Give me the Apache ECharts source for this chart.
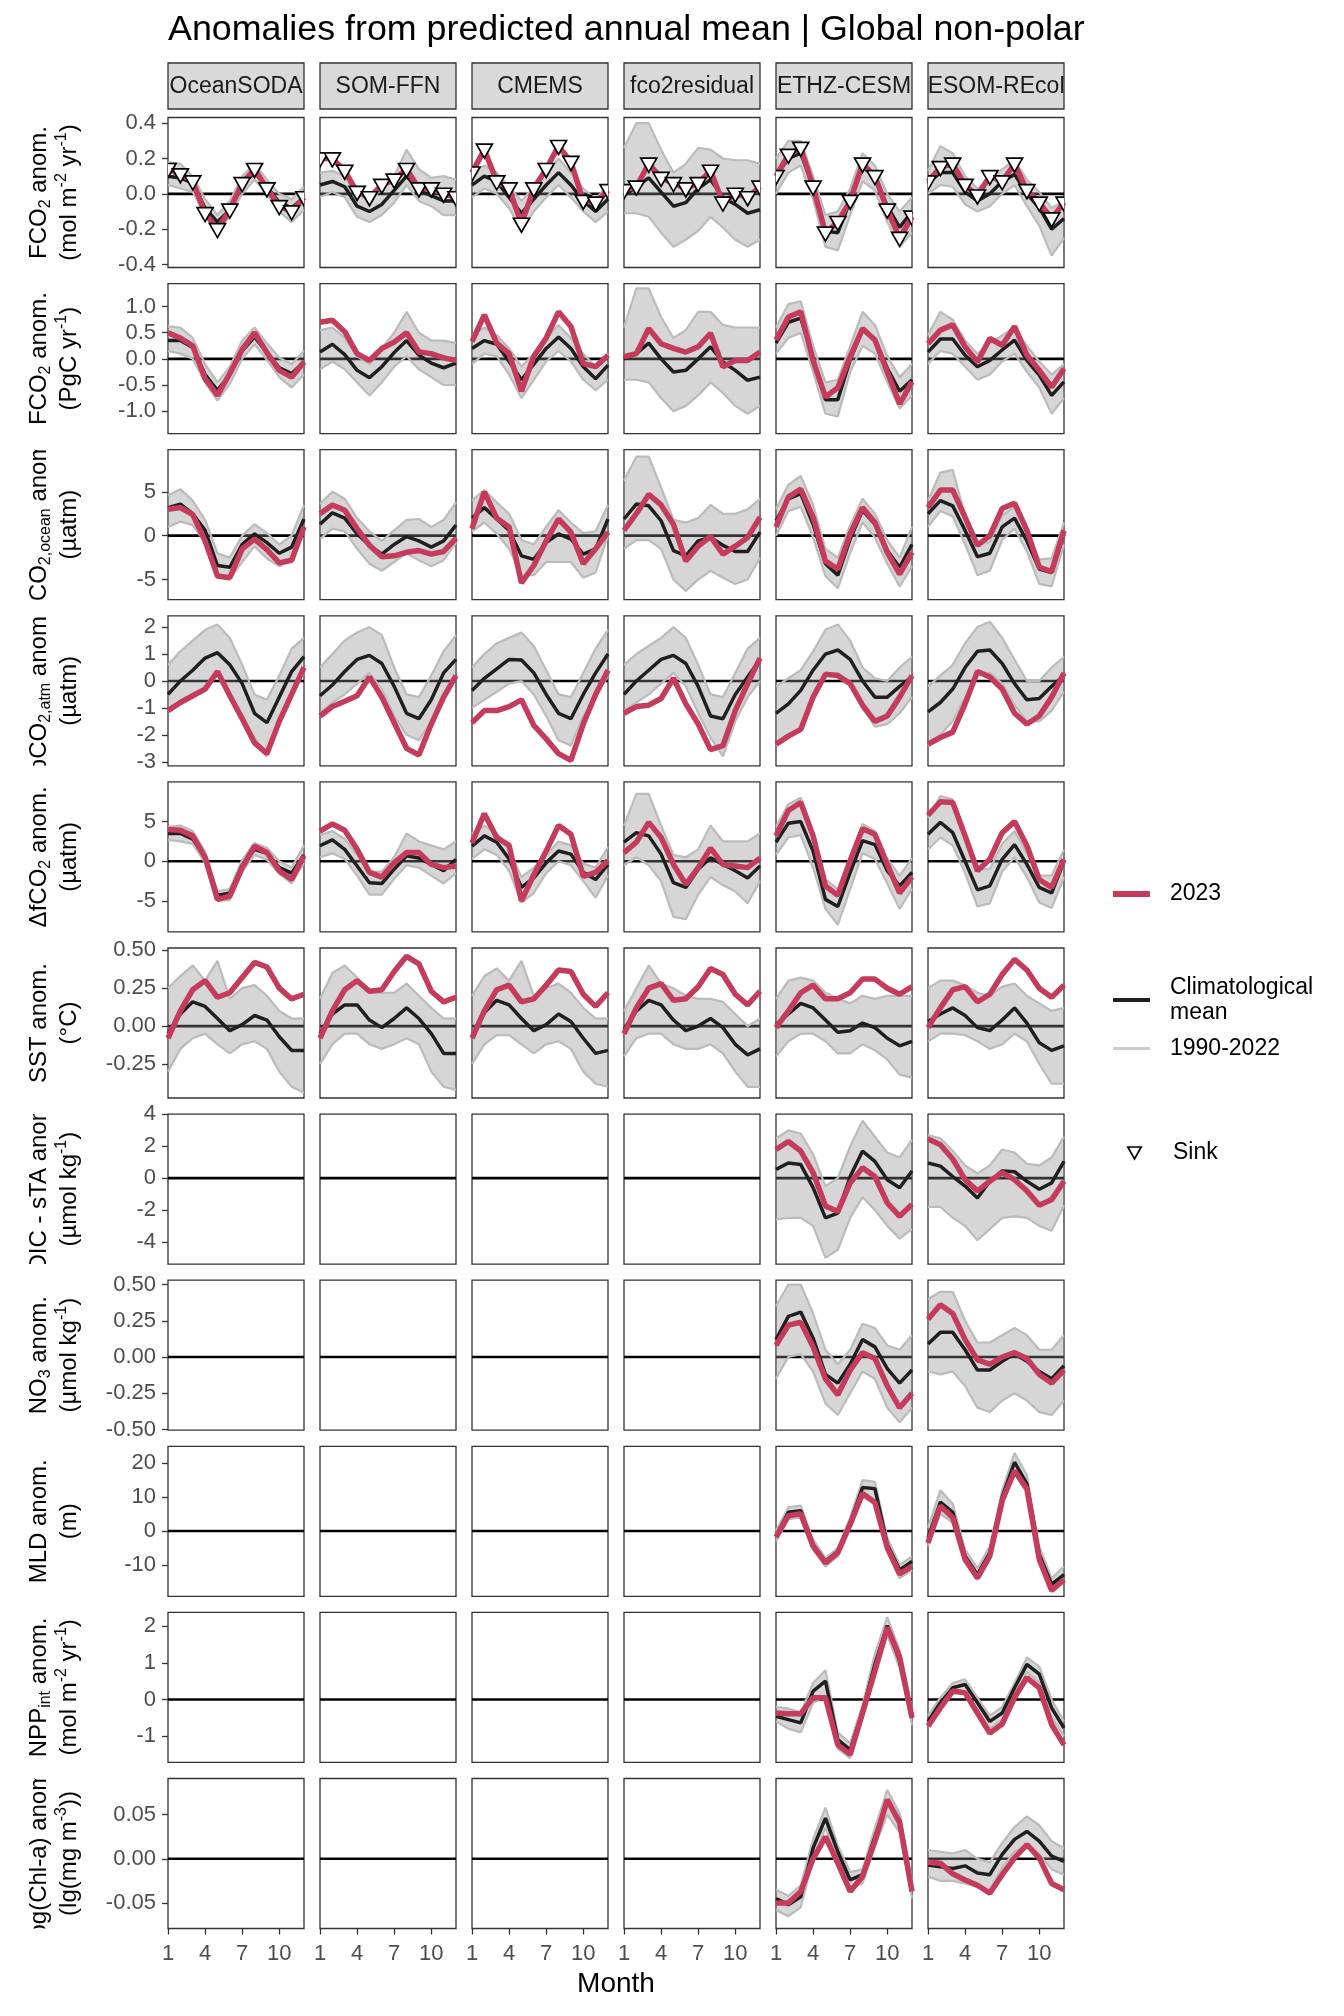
<!DOCTYPE html>
<html><head><meta charset="utf-8">
<script src="https://cdn.jsdelivr.net/npm/echarts@6/dist/echarts.min.js"></script>
<style>html,body{margin:0;padding:0;background:#fff}#c{width:1344px;height:2016px}</style>
</head><body><div id="c"></div>
<script>
// ---------------- data ----------------
const months = [1,2,3,4,5,6,7,8,9,10,11,12];
const xTickValues = [1,4,7,10];
const products = ['OceanSODA','SOM-FFN','CMEMS','fco2residual','ETHZ-CESM','FESOM-REcoM'];

// FCO2 anom (mol m-2 yr-1)
const fco2mol_2023 = [
 [0.14,0.11,0.07,-0.11,-0.20,-0.09,0.06,0.14,0.03,-0.07,-0.10,-0.02],
 [0.20,0.20,0.13,0.01,-0.02,0.05,0.08,0.14,0.03,0.03,0.00,-0.02],
 [0.12,0.25,0.07,0.03,-0.17,0.03,0.14,0.27,0.18,-0.04,-0.05,0.02],
 [0.02,0.04,0.17,0.09,0.06,0.03,0.06,0.13,-0.05,0.00,-0.02,0.04],
 [0.10,0.22,0.26,0.04,-0.22,-0.16,-0.04,0.17,0.10,-0.09,-0.25,-0.13],
 [0.07,0.15,0.17,0.05,-0.01,0.10,0.07,0.17,0.02,-0.05,-0.14,-0.05]];
const fco2mol_clim = [
 [0.10,0.09,0.06,-0.08,-0.16,-0.09,0.05,0.12,0.04,-0.05,-0.08,-0.02],
 [0.05,0.07,0.04,-0.07,-0.10,-0.06,0.02,0.10,0.02,-0.01,-0.04,-0.04],
 [0.05,0.10,0.07,-0.02,-0.11,-0.03,0.05,0.12,0.05,-0.04,-0.10,-0.03],
 [-0.01,0.04,0.09,0.01,-0.07,-0.05,0.03,0.08,-0.02,-0.06,-0.11,-0.09],
 [0.10,0.20,0.23,0.04,-0.21,-0.22,-0.04,0.15,0.10,-0.07,-0.19,-0.10],
 [0.06,0.12,0.12,0.01,-0.04,0.00,0.07,0.11,0.00,-0.08,-0.20,-0.14]];
const fco2mol_hi = [
 [0.18,0.17,0.10,-0.03,-0.12,-0.04,0.10,0.17,0.08,0.00,-0.03,0.04],
 [0.12,0.13,0.10,0.00,-0.04,0.03,0.10,0.25,0.14,0.09,0.10,0.08],
 [0.12,0.16,0.12,0.04,-0.04,0.04,0.12,0.20,0.12,0.03,-0.03,0.05],
 [0.26,0.40,0.40,0.25,0.12,0.17,0.26,0.25,0.20,0.19,0.19,0.17],
 [0.20,0.30,0.30,0.10,-0.12,-0.10,0.03,0.23,0.16,0.00,-0.10,-0.02],
 [0.13,0.27,0.23,0.10,0.03,0.08,0.14,0.19,0.08,0.01,-0.08,-0.04]];
const fco2mol_lo = [
 [0.05,0.03,0.01,-0.12,-0.21,-0.13,0.00,0.08,0.00,-0.10,-0.16,-0.09],
 [-0.02,0.01,-0.02,-0.13,-0.16,-0.12,-0.05,0.05,-0.04,-0.07,-0.12,-0.12],
 [-0.02,0.03,0.00,-0.08,-0.21,-0.10,-0.02,0.05,-0.02,-0.10,-0.16,-0.10],
 [-0.11,-0.11,-0.13,-0.22,-0.30,-0.26,-0.21,-0.13,-0.19,-0.26,-0.30,-0.26],
 [0.00,0.12,0.16,-0.03,-0.30,-0.32,-0.12,0.07,0.02,-0.16,-0.30,-0.22],
 [0.00,0.05,0.04,-0.06,-0.10,-0.07,0.00,0.05,-0.07,-0.18,-0.35,-0.25]];

// FCO2 anom (PgC yr-1)
const fco2pg_2023 = [
 [0.50,0.40,0.25,-0.38,-0.70,-0.28,0.18,0.50,0.12,-0.22,-0.35,-0.06],
 [0.70,0.74,0.52,0.10,-0.03,0.20,0.32,0.50,0.13,0.10,0.02,-0.03],
 [0.33,0.84,0.30,0.10,-0.62,0.05,0.40,0.90,0.62,-0.09,-0.15,0.07],
 [0.04,0.10,0.58,0.29,0.20,0.13,0.23,0.49,-0.15,-0.03,-0.03,0.13],
 [0.36,0.80,0.90,-0.03,-0.73,-0.55,0.04,0.58,0.36,-0.25,-0.86,-0.44],
 [0.29,0.55,0.65,0.23,-0.06,0.39,0.26,0.62,0.07,-0.22,-0.54,-0.19]];
const fco2pg_clim = [
 [0.35,0.35,0.22,-0.30,-0.60,-0.30,0.15,0.42,0.12,-0.17,-0.28,-0.06],
 [0.13,0.28,0.08,-0.22,-0.36,-0.15,0.12,0.35,0.07,-0.08,-0.17,-0.08],
 [0.20,0.35,0.28,-0.05,-0.40,-0.10,0.20,0.42,0.20,-0.15,-0.38,-0.12],
 [0.00,0.10,0.30,0.00,-0.25,-0.22,0.00,0.23,-0.06,-0.22,-0.41,-0.35],
 [0.30,0.70,0.78,0.00,-0.78,-0.78,-0.02,0.55,0.38,-0.18,-0.62,-0.40],
 [0.13,0.38,0.38,0.07,-0.15,-0.03,0.17,0.36,-0.03,-0.31,-0.70,-0.44]];
const fco2pg_hi = [
 [0.62,0.60,0.40,-0.10,-0.45,-0.15,0.35,0.60,0.30,0.02,-0.10,0.15],
 [0.55,0.60,0.40,0.05,-0.10,0.20,0.50,0.90,0.50,0.35,0.35,0.30],
 [0.45,0.60,0.45,0.20,-0.15,0.10,0.40,0.65,0.40,0.10,-0.15,0.10],
 [0.60,1.35,1.35,0.80,0.40,0.55,0.90,0.90,0.65,0.60,0.60,0.60],
 [0.60,1.05,1.10,0.25,-0.45,-0.40,0.25,0.90,0.65,0.05,-0.35,-0.10],
 [0.45,0.90,0.75,0.35,0.10,0.30,0.45,0.60,0.25,-0.05,-0.30,-0.10]];
const fco2pg_lo = [
 [0.15,0.10,0.00,-0.45,-0.80,-0.48,0.00,0.28,-0.02,-0.35,-0.55,-0.30],
 [-0.20,-0.05,-0.20,-0.45,-0.70,-0.45,-0.15,0.05,-0.20,-0.35,-0.50,-0.50],
 [-0.10,0.10,0.05,-0.30,-0.75,-0.40,-0.05,0.15,-0.05,-0.40,-0.60,-0.40],
 [-0.40,-0.40,-0.45,-0.75,-1.00,-0.90,-0.70,-0.45,-0.65,-0.90,-1.05,-0.90],
 [0.10,0.40,0.50,-0.25,-1.05,-1.10,-0.25,0.25,0.10,-0.45,-0.95,-0.70],
 [-0.10,0.15,0.10,-0.15,-0.40,-0.30,-0.05,0.10,-0.25,-0.55,-1.05,-0.75]];

// pCO2,ocean anom (uatm)
const pco2ocean_2023 = [
 [3.0,3.2,2.4,-0.6,-4.6,-4.8,-1.5,-0.4,-1.6,-3.1,-2.8,1.0],
 [2.5,3.5,2.9,0.8,-1.1,-2.4,-2.3,-1.9,-1.7,-2.1,-1.8,-0.3],
 [0.8,5.0,2.0,1.0,-5.4,-3.4,-0.6,1.9,0.4,-3.2,-1.5,0.4],
 [0.6,2.5,4.7,3.5,1.3,-2.9,-1.2,-0.1,-2.1,-1.2,-0.2,2.1],
 [1.0,4.4,5.3,2.1,-2.9,-3.8,0.2,3.2,1.5,-1.9,-4.4,-1.9],
 [3.2,5.2,5.2,2.1,-1.1,0.0,3.1,3.7,0.6,-3.6,-4.1,0.6]];
const pco2ocean_clim = [
 [3.2,3.6,2.5,0.6,-3.4,-3.6,-1.0,0.2,-0.8,-2.0,-1.3,1.9],
 [1.3,2.6,2.0,0.2,-1.1,-2.1,-1.0,-0.1,-0.6,-1.3,-0.6,1.2],
 [2.0,3.2,1.9,0.6,-2.3,-2.7,-0.8,0.2,-0.4,-2.1,-1.5,1.9],
 [1.9,3.6,3.4,1.7,-1.7,-2.3,-0.6,-0.2,-1.1,-1.8,-1.8,0.4],
 [1.7,4.2,4.8,1.3,-3.2,-4.5,-0.4,2.9,1.3,-1.7,-3.6,-1.0],
 [2.5,4.0,3.4,0.6,-2.4,-2.0,1.0,2.0,-0.6,-3.8,-4.2,0.2]];
const pco2ocean_hi = [
 [4.6,5.3,4.0,1.8,-2.0,-2.5,0.0,1.3,0.3,-1.0,0.0,3.5],
 [3.6,5.0,4.2,2.0,0.5,-0.6,0.6,1.8,1.9,1.0,1.8,3.8],
 [4.0,5.2,3.8,2.5,-0.5,-1.0,1.0,2.9,1.5,0.3,0.5,3.5],
 [6.3,9.0,9.0,5.5,1.8,1.5,2.0,3.5,2.5,2.5,3.0,4.2],
 [3.0,5.8,6.8,3.5,-1.5,-2.5,1.2,4.2,2.5,-0.5,-2.5,1.0],
 [4.0,7.2,7.5,2.3,-1.0,-0.7,2.3,3.3,0.5,-2.7,-2.6,1.5]];
const pco2ocean_lo = [
 [1.0,1.6,1.2,-0.8,-4.8,-4.9,-3.0,-1.2,-2.6,-3.5,-2.8,0.5],
 [-0.4,0.8,0.5,-1.5,-3.2,-4.0,-3.0,-2.0,-2.8,-3.5,-2.8,-0.8],
 [0.5,1.5,0.2,-1.5,-4.5,-4.5,-3.0,-3.0,-3.0,-4.8,-4.2,0.0],
 [-1.5,-0.5,-0.5,-1.5,-5.0,-6.3,-5.0,-4.0,-4.8,-5.5,-5.0,-2.5],
 [0.0,2.8,3.3,-0.2,-4.6,-6.0,-2.0,1.5,-0.2,-3.2,-5.8,-3.5],
 [1.0,2.8,2.2,-1.0,-4.5,-4.0,-0.5,0.8,-1.8,-5.5,-5.8,-1.0]];

// pCO2,atm anom (uatm)
const pco2atm_2023 = [
 [-1.1,-0.8,-0.55,-0.3,0.35,-0.55,-1.4,-2.3,-2.7,-1.5,-0.5,0.5],
 [-1.3,-0.95,-0.75,-0.55,0.15,-0.6,-1.55,-2.5,-2.75,-1.6,-0.6,0.2],
 [-1.55,-1.1,-1.1,-0.95,-0.7,-1.65,-2.15,-2.7,-2.95,-1.6,-0.5,0.4],
 [-1.2,-0.95,-0.9,-0.65,0.1,-0.85,-1.6,-2.55,-2.4,-1.1,-0.1,0.85],
 [-2.35,-2.05,-1.8,-0.6,0.25,0.2,-0.1,-0.9,-1.5,-1.3,-0.6,0.2],
 [-2.35,-2.1,-1.9,-0.85,0.35,0.15,-0.3,-1.2,-1.6,-1.3,-0.6,0.3]];
const pco2atm_clim = [
 [-0.5,0.0,0.4,0.85,1.05,0.6,-0.1,-1.2,-1.55,-0.6,0.35,0.9],
 [-0.55,-0.15,0.35,0.8,0.95,0.65,-0.2,-1.2,-1.4,-0.7,0.3,0.8],
 [-0.35,0.1,0.45,0.8,0.78,0.3,-0.5,-1.2,-1.4,-0.5,0.3,1.0],
 [-0.5,0.0,0.4,0.8,0.95,0.65,-0.2,-1.3,-1.4,-0.5,0.15,0.8],
 [-1.2,-0.85,-0.35,0.4,1.0,1.15,0.8,0.0,-0.6,-0.6,-0.2,0.15],
 [-1.15,-0.8,-0.3,0.5,1.1,1.15,0.65,-0.1,-0.7,-0.65,-0.2,0.2]];
const pco2atm_hi = [
 [0.6,1.1,1.5,1.9,2.1,1.6,0.6,-0.5,-0.7,0.2,1.2,1.6],
 [0.5,1.0,1.5,1.8,2.0,1.7,0.5,-0.5,-0.6,0.2,1.1,1.7],
 [0.5,1.0,1.4,1.6,1.8,1.3,0.4,-0.5,-0.6,0.3,1.2,1.9],
 [0.6,1.0,1.3,1.6,2.0,1.6,0.6,-0.5,-0.6,0.3,1.2,1.6],
 [-0.2,0.1,0.4,1.1,1.9,2.1,1.5,0.5,0.1,0.0,0.5,0.9],
 [-0.2,0.2,0.6,1.4,2.0,2.2,1.6,0.8,0.0,0.0,0.5,0.9]];
const pco2atm_lo = [
 [-1.1,-0.8,-0.6,-0.2,0.3,-0.5,-1.3,-2.1,-2.8,-1.6,-0.5,0.3],
 [-1.2,-0.8,-0.5,-0.1,0.3,-0.3,-1.3,-2.0,-2.2,-1.5,-0.5,0.1],
 [-1.0,-0.7,-0.4,-0.1,0.0,-0.5,-1.3,-2.2,-2.4,-1.3,-0.6,0.2],
 [-1.1,-0.8,-0.5,-0.1,0.3,-0.2,-1.2,-2.1,-2.8,-1.5,-0.6,0.0],
 [-2.4,-2.1,-1.8,-0.5,0.2,0.3,-0.1,-1.0,-1.7,-1.6,-1.2,-0.6],
 [-2.4,-2.0,-1.5,-0.6,0.2,0.3,-0.1,-0.9,-1.5,-1.5,-1.1,-0.4]];

// delta fCO2 anom (uatm)
const dfco2_2023 = [
 [4.0,3.9,3.2,0.5,-4.8,-4.4,-0.8,1.9,1.1,-1.2,-2.3,0.7],
 [3.8,4.7,3.9,1.5,-1.4,-2.0,-0.2,1.1,1.1,-0.4,-0.8,-0.6],
 [2.3,6.0,3.0,2.0,-5.0,-1.7,1.3,4.5,3.4,-1.9,-1.4,0.1],
 [1.1,2.4,4.9,3.0,-0.4,-2.9,-0.8,1.65,-0.4,-0.6,-0.8,0.4],
 [3.2,6.4,7.4,3.2,-3.1,-4.3,0.1,4.1,3.4,-0.4,-4.0,-2.0],
 [5.8,7.5,7.4,3.2,-1.2,0.25,3.6,5.0,1.95,-2.3,-3.3,0.25]];
const dfco2_clim = [
 [3.5,3.5,2.8,0.5,-4.3,-4.0,-0.5,1.5,1.0,-0.8,-1.5,0.8],
 [1.95,2.7,1.5,-0.6,-2.7,-2.8,-1.0,0.7,0.4,-0.4,-1.2,0.25],
 [1.9,3.2,2.4,0.3,-3.3,-2.1,-0.2,1.3,0.9,-1.4,-2.3,-0.4],
 [2.4,3.6,3.2,0.9,-2.7,-3.3,-1.0,0.45,-0.4,-1.2,-2.1,-0.6],
 [2.4,4.8,5.0,1.3,-4.8,-5.7,-1.4,2.6,2.1,-1.2,-3.1,-1.4],
 [3.4,4.9,3.6,0.0,-3.6,-3.1,0.25,2.1,-0.4,-3.3,-4.0,0.0]];
const dfco2_hi = [
 [4.3,4.5,3.8,1.2,-3.8,-3.5,0.2,2.3,1.7,0.0,-0.8,2.0],
 [3.3,3.8,2.8,0.8,-1.3,-1.3,0.5,3.5,2.5,2.0,1.5,2.5],
 [3.5,4.5,3.5,1.5,-2.0,-0.8,0.8,2.5,2.0,-0.3,-0.8,1.8],
 [4.5,8.5,8.5,4.5,0.8,0.5,1.5,4.5,2.5,2.5,2.5,3.5],
 [4.3,7.2,8.0,3.8,-2.3,-3.5,0.5,4.7,3.8,0.3,-1.8,0.4],
 [5.5,8.2,7.8,3.0,-1.0,-1.0,2.2,3.8,1.0,-1.8,-1.8,1.5]];
const dfco2_lo = [
 [2.7,2.5,2.2,-0.2,-5.0,-4.9,-1.3,0.8,0.2,-1.6,-2.8,-0.2],
 [0.5,1.0,0.3,-1.8,-4.2,-4.2,-2.2,-0.5,-0.8,-1.8,-2.8,-1.5],
 [0.3,1.5,0.8,-1.2,-5.2,-4.0,-1.5,0.0,-0.5,-2.5,-4.6,-1.8],
 [-0.5,0.5,-0.5,-2.5,-7.0,-7.3,-4.2,-2.0,-3.0,-3.8,-5.3,-2.5],
 [0.8,3.0,3.3,-0.8,-6.0,-8.0,-3.5,1.0,0.3,-2.8,-6.0,-3.5],
 [1.5,3.0,2.0,-1.5,-5.7,-5.3,-1.3,0.5,-2.0,-5.2,-5.9,-2.0]];

// SST anom (degC)
const sst_2023 = [
 [-0.08,0.10,0.24,0.30,0.19,0.22,0.32,0.42,0.39,0.25,0.18,0.21],
 [-0.08,0.10,0.24,0.30,0.23,0.24,0.36,0.46,0.41,0.23,0.16,0.19],
 [-0.08,0.10,0.24,0.27,0.16,0.18,0.27,0.37,0.36,0.21,0.13,0.22],
 [-0.05,0.12,0.25,0.28,0.17,0.18,0.26,0.38,0.34,0.21,0.14,0.23],
 [-0.01,0.10,0.22,0.27,0.18,0.18,0.22,0.31,0.31,0.25,0.21,0.26],
 [-0.01,0.12,0.24,0.26,0.16,0.21,0.34,0.44,0.37,0.25,0.19,0.27]];
const sst_clim = [
 [-0.05,0.08,0.16,0.13,0.05,-0.03,0.01,0.07,0.04,-0.07,-0.16,-0.16],
 [-0.05,0.08,0.14,0.14,0.04,-0.01,0.05,0.12,0.05,-0.05,-0.18,-0.18],
 [-0.07,0.09,0.17,0.14,0.05,-0.03,0.01,0.08,0.03,-0.08,-0.18,-0.16],
 [-0.02,0.10,0.17,0.14,0.04,-0.03,0.00,0.05,-0.01,-0.12,-0.19,-0.15],
 [0.01,0.08,0.15,0.12,0.04,-0.04,-0.03,0.02,-0.01,-0.08,-0.13,-0.10],
 [0.03,0.08,0.12,0.07,-0.01,-0.03,0.04,0.12,0.02,-0.11,-0.16,-0.13]];
const sst_hi = [
 [0.25,0.33,0.40,0.30,0.43,0.18,0.25,0.27,0.20,0.10,0.05,0.05],
 [0.18,0.35,0.40,0.32,0.22,0.22,0.22,0.28,0.20,0.12,0.05,0.05],
 [0.20,0.33,0.38,0.30,0.43,0.20,0.25,0.28,0.22,0.12,0.05,0.05],
 [0.10,0.25,0.40,0.28,0.25,0.20,0.18,0.18,0.16,0.08,0.00,0.05],
 [0.18,0.30,0.32,0.30,0.22,0.18,0.15,0.20,0.18,0.20,0.20,0.20],
 [0.25,0.30,0.30,0.27,0.22,0.20,0.26,0.28,0.20,0.15,0.10,0.12]];
const sst_lo = [
 [-0.30,-0.15,-0.08,-0.05,-0.12,-0.18,-0.12,-0.10,-0.15,-0.30,-0.40,-0.44],
 [-0.25,-0.12,-0.05,-0.05,-0.12,-0.15,-0.12,-0.08,-0.12,-0.30,-0.40,-0.42],
 [-0.25,-0.12,-0.06,-0.06,-0.12,-0.18,-0.12,-0.10,-0.15,-0.30,-0.38,-0.40],
 [-0.20,-0.08,-0.05,-0.05,-0.12,-0.15,-0.15,-0.12,-0.18,-0.30,-0.40,-0.40],
 [-0.20,-0.10,-0.05,-0.05,-0.10,-0.18,-0.18,-0.12,-0.16,-0.22,-0.32,-0.34],
 [-0.10,-0.05,-0.05,-0.06,-0.10,-0.15,-0.12,-0.05,-0.10,-0.25,-0.38,-0.38]];

// sDIC - sTA anom (umol kg-1)
const sdic_2023 = [null,null,null,null,
 [1.8,2.3,1.7,0.35,-1.75,-2.1,-0.3,0.65,0.1,-1.55,-2.4,-1.65],
 [2.45,2.1,1.2,-0.1,-0.8,-0.2,0.35,-0.1,-0.8,-1.7,-1.35,-0.2]];
const sdic_clim = [null,null,null,null,
 [0.55,0.95,0.85,-0.6,-2.5,-2.2,0.1,1.7,1.05,-0.1,-0.6,0.45],
 [0.95,0.75,0.1,-0.5,-1.25,-0.2,0.45,0.4,-0.2,-0.7,-0.3,1.05]];
const sdic_hi = [null,null,null,null,
 [2.5,3.0,2.8,1.5,-0.5,0.0,2.0,3.6,2.6,1.6,1.3,2.4],
 [2.7,2.5,1.7,0.8,0.3,0.8,1.8,1.6,0.9,0.8,1.3,2.6]];
const sdic_lo = [null,null,null,null,
 [-2.6,-2.5,-2.5,-3.0,-5.0,-4.5,-2.5,-1.2,-2.0,-3.0,-3.8,-3.2],
 [-1.8,-1.8,-2.5,-3.0,-3.9,-3.2,-2.5,-2.4,-2.5,-3.0,-3.3,-1.7]];

// NO3 anom (umol kg-1)
const no3_2023 = [null,null,null,null,
 [0.08,0.22,0.24,0.07,-0.15,-0.26,-0.09,0.03,-0.01,-0.20,-0.35,-0.25],
 [0.26,0.36,0.30,0.12,-0.02,-0.05,0.00,0.03,-0.01,-0.12,-0.18,-0.09]];
const no3_clim = [null,null,null,null,
 [0.12,0.28,0.31,0.13,-0.12,-0.18,-0.05,0.12,0.07,-0.08,-0.18,-0.09],
 [0.09,0.17,0.17,0.05,-0.09,-0.09,-0.03,0.02,-0.03,-0.10,-0.15,-0.06]];
const no3_hi = [null,null,null,null,
 [0.35,0.50,0.50,0.30,0.05,-0.05,0.05,0.23,0.20,0.08,0.05,0.15],
 [0.40,0.45,0.45,0.25,0.10,0.10,0.15,0.20,0.15,0.05,0.05,0.15]];
const no3_lo = [null,null,null,null,
 [-0.15,0.00,0.02,-0.10,-0.32,-0.40,-0.25,-0.10,-0.15,-0.35,-0.45,-0.35],
 [-0.10,-0.12,-0.10,-0.20,-0.35,-0.38,-0.30,-0.25,-0.30,-0.38,-0.40,-0.30]];

// MLD anom (m)
const mld_2023 = [null,null,null,null,
 [-1.8,4.5,5.1,-4.5,-9.4,-6.4,2.0,11.1,8.4,-5.0,-12.7,-10.4],
 [-3.5,7.4,4.0,-8.4,-13.9,-7.4,8.9,17.8,12.4,-8.4,-17.6,-14.4]];
const mld_clim = [null,null,null,null,
 [-1.5,5.5,6.0,-4.0,-9.0,-6.0,2.5,12.8,12.5,-4.0,-11.5,-9.0],
 [-2.0,8.5,5.5,-7.4,-12.9,-6.4,10.0,20.3,13.9,-6.9,-15.8,-12.9]];
const mld_hi = [null,null,null,null,
 [0.0,7.0,7.5,-2.5,-8.0,-5.0,4.0,15.0,14.5,-2.0,-10.0,-7.5],
 [1.0,12.0,8.0,-5.5,-11.0,-4.5,12.0,23.0,16.5,-4.5,-14.0,-10.5]];
const mld_lo = [null,null,null,null,
 [-3.0,3.5,4.0,-5.5,-10.5,-7.5,1.0,10.0,8.0,-6.0,-14.0,-11.5],
 [-4.5,5.0,2.5,-9.0,-14.5,-8.5,8.0,17.0,11.5,-9.0,-18.0,-15.0]];

// NPP_int anom (mol m-2 yr-1)
const npp_2023 = [null,null,null,null,
 [-0.37,-0.39,-0.39,0.05,0.05,-1.24,-1.5,-0.37,0.78,1.97,1.15,-0.5],
 [-0.73,-0.23,0.23,0.18,-0.37,-0.92,-0.67,0.05,0.6,0.32,-0.69,-1.24]];
const npp_clim = [null,null,null,null,
 [-0.46,-0.55,-0.64,0.23,0.5,-1.1,-1.38,-0.32,0.96,2.02,1.05,-0.5],
 [-0.6,-0.09,0.32,0.41,-0.09,-0.6,-0.37,0.32,0.96,0.69,-0.23,-0.78]];
const npp_hi = [null,null,null,null,
 [-0.2,-0.25,-0.35,0.45,0.8,-0.9,-1.2,-0.15,1.25,2.25,1.35,-0.25],
 [-0.45,0.05,0.45,0.55,0.05,-0.45,-0.2,0.45,1.15,0.9,0.0,-0.6]];
const npp_lo = [null,null,null,null,
 [-0.6,-0.8,-0.9,-0.1,0.1,-1.35,-1.6,-0.5,0.7,1.75,0.85,-0.7],
 [-0.75,-0.25,0.15,0.2,-0.3,-0.8,-0.55,0.15,0.75,0.45,-0.5,-1.0]];

// log(Chl-a) anom (lg(mg m-3))
const chl_2023 = [null,null,null,null,
 [-0.05,-0.05,-0.037,0.0,0.025,-0.005,-0.037,-0.02,0.02,0.067,0.041,-0.037],
 [-0.004,-0.005,-0.017,-0.024,-0.03,-0.039,-0.018,0.001,0.016,0.001,-0.028,-0.035]];
const chl_clim = [null,null,null,null,
 [-0.045,-0.052,-0.043,0.012,0.046,0.008,-0.024,-0.018,0.025,0.065,0.044,-0.035],
 [-0.007,-0.009,-0.011,-0.008,-0.016,-0.018,0.005,0.022,0.031,0.02,0.003,-0.003]];
const chl_hi = [null,null,null,null,
 [-0.035,-0.042,-0.030,0.022,0.058,0.015,-0.015,-0.012,0.035,0.078,0.052,-0.025],
 [0.010,0.008,0.006,0.010,0.000,-0.004,0.018,0.036,0.048,0.038,0.020,0.012]];
const chl_lo = [null,null,null,null,
 [-0.058,-0.065,-0.055,0.000,0.035,0.000,-0.032,-0.028,0.015,0.050,0.030,-0.045],
 [-0.020,-0.025,-0.025,-0.028,-0.032,-0.035,-0.010,0.008,0.015,0.005,-0.012,-0.018]];

// axis limits and tick labels
const yLim_fco2mol = [-0.417, 0.432];   const yTicks_fco2mol = [-0.4,-0.2,0,0.2,0.4];
const yLim_fco2pg = [-1.43, 1.44];      const yTicks_fco2pg = [-1,-0.5,0,0.5,1];
const yLim_pco2ocean = [-7.3, 9.8];     const yTicks_pco2ocean = [-5,0,5];
const yLim_pco2atm = [-3.15, 2.42];     const yTicks_pco2atm = [-3,-2,-1,0,1,2];
const yLim_dfco2 = [-8.9, 10.0];        const yTicks_dfco2 = [-5,0,5];
const yLim_sst = [-0.474, 0.515];       const yTicks_sst = [-0.25,0,0.25,0.5];
const yLim_sdic = [-5.4, 4.02];         const yTicks_sdic = [-4,-2,0,2,4];
const yLim_no3 = [-0.505, 0.53];        const yTicks_no3 = [-0.5,-0.25,0,0.25,0.5];
const yLim_mld = [-19.3, 25.0];         const yTicks_mld = [-10,0,10,20];
const yLim_npp = [-1.72, 2.38];         const yTicks_npp = [-1,0,1,2];
const yLim_chl = [-0.079, 0.091];       const yTicks_chl = [-0.05,0,0.05];
const yDecimals = [1,1,0,0,0,2,0,2,0,0,2];

const yTitles = [
 '{m|FCO}{sub|2}{m| anom.}\n{m|(mol m}{sup|-2}{m| yr}{sup|-1}{m|)}',
 '{m|FCO}{sub|2}{m| anom.}\n{m|(PgC yr}{sup|-1}{m|)}',
 '{m|pCO}{sub|2,ocean}{m| anom.}\n{m|(\u00b5atm)}',
 '{m|pCO}{sub|2,atm}{m| anom.}\n{m|(\u00b5atm)}',
 '{m|\u0394fCO}{sub|2}{m| anom.}\n{m|(\u00b5atm)}',
 '{m|SST anom.}\n{m|(\u00b0C)}',
 '{m|sDIC - sTA anom.}\n{m|(\u00b5mol kg}{sup|-1}{m|)}',
 '{m|NO}{sub|3}{m| anom.}\n{m|(\u00b5mol kg}{sup|-1}{m|)}',
 '{m|MLD anom.}\n{m|(m)}',
 '{m|NPP}{sub|int}{m| anom.}\n{m|(mol m}{sup|-2}{m| yr}{sup|-1}{m|)}',
 '{m|log(Chl-a) anom.}\n{m|(lg(mg m}{sup|-3}{m|))}'
];

// ---------------- build ----------------
const rowsData = [
 [fco2mol_2023, fco2mol_clim, fco2mol_hi, fco2mol_lo, yLim_fco2mol, yTicks_fco2mol],
 [fco2pg_2023, fco2pg_clim, fco2pg_hi, fco2pg_lo, yLim_fco2pg, yTicks_fco2pg],
 [pco2ocean_2023, pco2ocean_clim, pco2ocean_hi, pco2ocean_lo, yLim_pco2ocean, yTicks_pco2ocean],
 [pco2atm_2023, pco2atm_clim, pco2atm_hi, pco2atm_lo, yLim_pco2atm, yTicks_pco2atm],
 [dfco2_2023, dfco2_clim, dfco2_hi, dfco2_lo, yLim_dfco2, yTicks_dfco2],
 [sst_2023, sst_clim, sst_hi, sst_lo, yLim_sst, yTicks_sst],
 [sdic_2023, sdic_clim, sdic_hi, sdic_lo, yLim_sdic, yTicks_sdic],
 [no3_2023, no3_clim, no3_hi, no3_lo, yLim_no3, yTicks_no3],
 [mld_2023, mld_clim, mld_hi, mld_lo, yLim_mld, yTicks_mld],
 [npp_2023, npp_clim, npp_hi, npp_lo, yLim_npp, yTicks_npp],
 [chl_2023, chl_clim, chl_hi, chl_lo, yLim_chl, yTicks_chl]
];

const FONT = '"Liberation Sans", Arial, Helvetica, sans-serif';
const RED = '#C43B5C';
const TRI = 'path://M0,0L10,0L5,9Z';
const PL = 168, PW = 136, PX = 152;
const PT = 117.5, PH = 150, PY = 166.1;
const STRIP_T = 63, STRIP_H = 46;

const grid = [], xAxis = [], yAxis = [], series = [];
const pts = (arr) => months.map((m, i) => [m, arr[i]]);

for (let r = 0; r < 11; r++) {
  const [d23, dcl, dhi, dlo, lim, ticks] = rowsData[r];
  for (let c = 0; c < 6; c++) {
    const gi = r * 6 + c;
    grid.push({left: PL + c * PX, top: PT + r * PY, width: PW, height: PH, show: true,
      borderColor: '#333333', borderWidth: 1.3, backgroundColor: '#ffffff', outerBoundsMode: 'none'});
    xAxis.push({gridIndex: gi, type: 'value', min: 1, max: 12, position: 'bottom',
      axisLine: {show: false, onZero: false}, splitLine: {show: false},
      axisTick: {show: r === 10, length: 6, lineStyle: {color: '#333333', width: 1.3}, customValues: xTickValues},
      axisLabel: {show: r === 10, customValues: xTickValues, margin: 14, fontSize: 22, color: '#4D4D4D', fontFamily: FONT}});
    yAxis.push({gridIndex: gi, type: 'value', min: lim[0], max: lim[1], position: 'left',
      axisLine: {show: false, onZero: false}, splitLine: {show: false},
      axisTick: {show: c === 0, length: 6, lineStyle: {color: '#333333', width: 1.3}, customValues: ticks},
      axisLabel: {show: c === 0, customValues: ticks, margin: 12, fontSize: 22, color: '#4D4D4D', fontFamily: FONT,
        formatter: (v) => Number(v).toFixed(yDecimals[r])}});
    // zero line
    series.push({type: 'line', name: 'zero', xAxisIndex: gi, yAxisIndex: gi, data: [[1, 0], [12, 0]],
      symbol: 'none', silent: true, z: 1, color: '#000', lineStyle: {color: '#000000', width: 2.6}});
    if (!d23[c]) continue;
    const hi = dhi[c], lo = dlo[c];
    series.push({type: 'custom', name: 'band', xAxisIndex: gi, yAxisIndex: gi, z: 2, silent: true,
      data: months.map((m, i) => [m, hi[i], lo[i]]), encode: {x: 0, y: [1, 2]},
      renderItem: (params, api) => {
        if (params.dataIndex !== 0) return null;
        const top = months.map((m, i) => api.coord([m, hi[i]]));
        const bot = months.map((m, i) => api.coord([m, lo[i]])).reverse();
        return {type: 'polygon', shape: {points: top.concat(bot)}, style: {fill: 'rgba(140,140,140,0.36)'}};
      }});
    series.push({type: 'line', name: '1990-2022', xAxisIndex: gi, yAxisIndex: gi, data: pts(hi), symbol: 'none',
      silent: true, z: 3, color: '#CCCCCC', lineStyle: {color: '#BBBBBB', width: 2.2}});
    series.push({type: 'line', name: '1990-2022', xAxisIndex: gi, yAxisIndex: gi, data: pts(lo), symbol: 'none',
      silent: true, z: 3, color: '#CCCCCC', lineStyle: {color: '#BBBBBB', width: 2.2}});
    series.push({type: 'line', name: 'Climatological\nmean', xAxisIndex: gi, yAxisIndex: gi, data: pts(dcl[c]),
      symbol: 'none', silent: true, z: 4, color: '#1F1F1F', lineStyle: {color: '#1F1F1F', width: 3.5}});
    series.push({type: 'line', name: '2023', xAxisIndex: gi, yAxisIndex: gi, data: pts(d23[c]),
      symbol: 'none', silent: true, z: 5, color: RED, lineStyle: {color: RED, width: 5.5}});
    if (r === 0) {
      series.push({type: 'custom', name: 'Sink', xAxisIndex: gi, yAxisIndex: gi, data: pts(d23[c]),
        encode: {x: 0, y: 1}, clip: true, silent: true, z: 6,
        itemStyle: {color: '#ffffff', borderColor: '#000000', borderWidth: 1.7},
        renderItem: (params, api) => {
          const p = api.coord([api.value(0), api.value(1)]);
          const w = 16, h = 14;
          return {type: 'polygon',
            shape: {points: [[p[0] - w / 2, p[1] - h * 0.4], [p[0] + w / 2, p[1] - h * 0.4], [p[0], p[1] + h * 0.6]]},
            style: {fill: '#ffffff', stroke: '#000000', lineWidth: 1.7}};
        }});
    }
  }
}

// strips (facet labels), clipped to the strip box
series.push({type: 'custom', name: 'strips', coordinateSystem: 'none', silent: true, z: 20,
  data: products.map((p, i) => [i]),
  renderItem: (params) => {
    const c = params.dataIndex, x = PL + c * PX;
    return {type: 'group', children: [
      {type: 'rect', shape: {x: x, y: STRIP_T, width: PW, height: STRIP_H}, style: {fill: '#D9D9D9', stroke: '#333333', lineWidth: 1.3}},
      {type: 'group', clipPath: {type: 'rect', shape: {x: x + 0.7, y: STRIP_T, width: PW - 1.4, height: STRIP_H}},
        children: [{type: 'text', x: x + PW / 2, y: STRIP_T + STRIP_H / 2 + 1,
          style: {text: products[c], fontSize: 23, fontFamily: FONT, fill: '#1A1A1A', align: 'center', verticalAlign: 'middle'}}]}
    ]};
  }});

// y-axis titles, clipped to the row height
const RICH = {
  m: {fontSize: 24, fontFamily: FONT, fill: '#000', lineHeight: 30},
  sub: {fontSize: 16, fontFamily: FONT, fill: '#000', lineHeight: 13, verticalAlign: 'bottom'},
  sup: {fontSize: 16, fontFamily: FONT, fill: '#000', lineHeight: 13, verticalAlign: 'top'}
};
series.push({type: 'custom', name: 'ytitles', coordinateSystem: 'none', silent: true, z: 20,
  data: yTitles.map((t, i) => [i]),
  renderItem: (params) => {
    const r = params.dataIndex, top = PT + r * PY;
    return {type: 'group', clipPath: {type: 'rect', shape: {x: 0, y: top, width: 128, height: PH}},
      children: [{type: 'text', x: 54, y: top + PH / 2, rotation: Math.PI / 2,
        style: {text: yTitles[r], rich: RICH, fontSize: 24, fontFamily: FONT, fill: '#000', lineHeight: 30,
          align: 'center', verticalAlign: 'middle'}}]};
  }});

const legendText = {fontSize: 23, color: '#000', fontFamily: FONT, lineHeight: 25, padding: [0, 0, 0, 15]};
const option = {
  animation: false,
  backgroundColor: '#ffffff',
  title: {text: 'Anomalies from predicted annual mean | Global non-polar', left: 168, top: 9, padding: 0,
    textStyle: {fontSize: 35.8, fontWeight: 'normal', color: '#000', fontFamily: FONT, lineHeight: 43}},
  legend: [
    {data: ['2023'], left: 1113, top: 881.5, orient: 'vertical', padding: 0, itemWidth: 37, itemHeight: 6,
      icon: 'rect', selectedMode: false, textStyle: legendText},
    {data: ['Climatological\nmean'], left: 1113, top: 975, orient: 'vertical', padding: 0, itemWidth: 37, itemHeight: 4,
      icon: 'rect', selectedMode: false, textStyle: legendText},
    {data: ['1990-2022'], left: 1113, top: 1036, orient: 'vertical', padding: 0, itemWidth: 37, itemHeight: 3,
      icon: 'rect', selectedMode: false, textStyle: legendText},
    {data: [{name: 'Sink', icon: TRI, itemStyle: {color: '#ffffff', borderColor: '#000000', borderWidth: 1.7}}],
      left: 1127, top: 1140.5, orient: 'vertical', padding: 0, itemWidth: 37, itemHeight: 12,
      selectedMode: false, textStyle: legendText}
  ],
  grid: grid, xAxis: xAxis, yAxis: yAxis, series: series,
  graphic: [
    {type: 'text', x: 616, y: 1984, style: {text: 'Month', fontSize: 28, fontFamily: FONT, fill: '#000',
      align: 'center', verticalAlign: 'middle'}}
  ]
};
const chart = echarts.init(document.getElementById('c'), null, {renderer: 'canvas', width: 1344, height: 2016});
chart.setOption(option);
</script></body></html>
